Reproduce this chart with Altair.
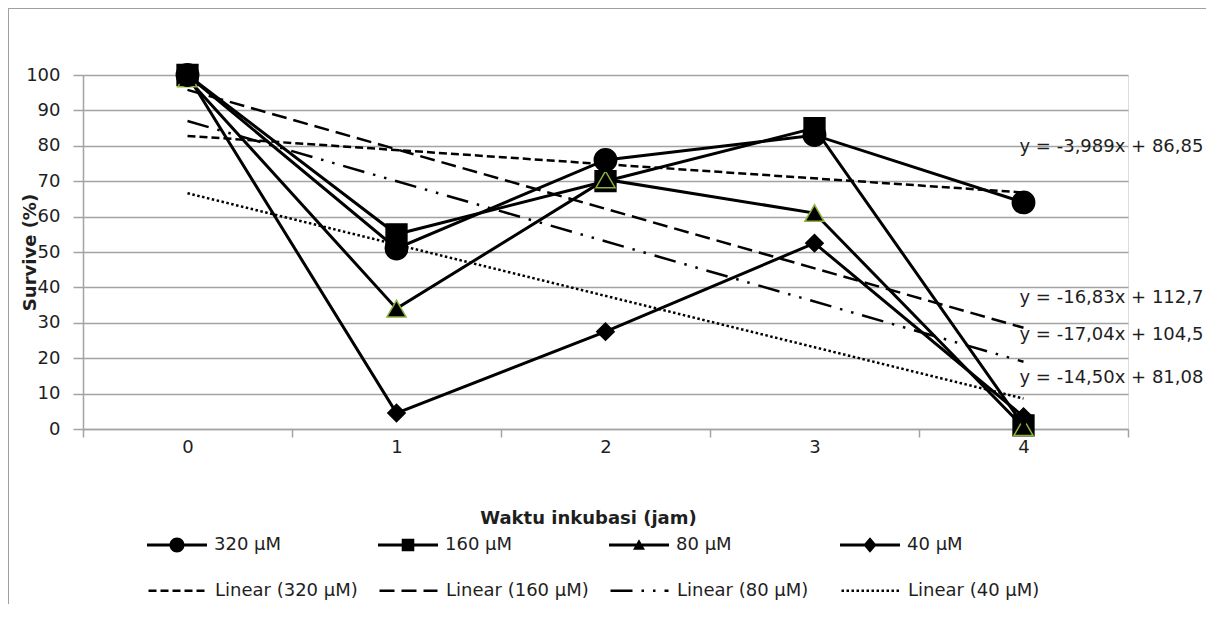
import altair as alt
import pandas as pd

# ---------------- data ----------------
times = [0, 1, 2, 3, 4]
series = ["320 µM", "160 µM", "80 µM", "40 µM"]
surv_320 = [100, 51, 76, 83, 64]
surv_160 = [100, 55, 70, 85, 1]
surv_80 = [99, 34, 70.5, 61, 0.5]
surv_40 = [100, 4.5, 27.5, 52.5, 3.5]
trend_labels = ["Linear (320 µM)", "Linear (160 µM)", "Linear (80 µM)", "Linear (40 µM)"]
equations = ["y = -3,989x + 86,85", "y = -16,83x + 112,7",
             "y = -17,04x + 104,5", "y = -14,50x + 81,08"]
equation_y = [79.7, 37.0, 26.6, 14.4]
y_ticks = list(range(0, 101, 10))
x_ticks = [-0.5, 0, 0.5, 1, 1.5, 2, 2.5, 3, 3.5, 4, 4.5]

values_by_series = [surv_320, surv_160, surv_80, surv_40]
draw_rank = [3, 0, 1, 2]

rows = []
for s, vals, z in zip(series, values_by_series, draw_rank):
    for t, v in zip(times, vals):
        rows.append({"series": s, "time": t, "survival": v, "z": z})
df = pd.DataFrame(rows)

eq_df = pd.DataFrame({"time": [times[-1]] * 4, "survival": equation_y, "text": equations})

# ---------------- styling ----------------
FONT = "DejaVu Sans"
TXT = "#1e1e1e"
GRID = "#a3a3a3"

x_enc = alt.X(
    "time:Q",
    scale=alt.Scale(domain=[-0.5, 4.5], nice=False, zero=False),
    axis=alt.Axis(
        values=x_ticks,
        labelExpr="datum.value % 1 == 0 ? format(datum.value, 'd') : ''",
        labelOverlap=False, labelFlush=False,
        grid=False,
        tickSize=8, tickWidth=1.5, tickColor=GRID,
        tickOpacity={"condition": {"test": "datum.value % 1 != 0", "value": 1}, "value": 0},
        domainColor=GRID, domainWidth=1.5,
        labelFont=FONT, labelFontSize=18, labelColor=TXT, labelPadding=1,
        title="Waktu inkubasi  (jam)",
        titleFont=FONT, titleFontSize=18, titleFontWeight="bold", titleColor=TXT,
        titleX=505, titleY=89, titleBaseline="middle", titleAlign="center",
    ),
)
y_enc = alt.Y(
    "survival:Q",
    scale=alt.Scale(domain=[0, 100], nice=False),
    axis=alt.Axis(
        values=y_ticks, format="d",
        grid=True, gridColor=GRID, gridWidth=1.5,
        tickSize=10, tickWidth=1.5, tickColor=GRID,
        domainColor=GRID, domainWidth=1.5,
        labelFont=FONT, labelFontSize=18, labelColor=TXT, labelPadding=13,
        title="Survive (%)",
        titleFont=FONT, titleFontSize=18, titleFontWeight="bold", titleColor=TXT,
        titleX=-53, titleY=177, titleAngle=270, titleBaseline="middle", titleAlign="center",
    ),
)

base = alt.Chart(df)

lines = base.mark_line(color="black", strokeWidth=3).encode(
    x=x_enc, y=y_enc, detail="series:N"
)

markers = base.mark_point(filled=True, fill="black", size=450, strokeWidth=1.5, opacity=1).encode(
    x=x_enc, y=y_enc,
    shape=alt.Shape("series:N", scale=alt.Scale(domain=series,
                    range=["circle", "square", "triangle-up", "diamond"]), legend=None),
    size=alt.Size("series:N", scale=alt.Scale(domain=series, range=[500, 300, 470, 480]),
                  legend=None),
    stroke=alt.Stroke("series:N", scale=alt.Scale(domain=series,
                      range=["black", "black", "#8db13c", "black"]), legend=None),
    order=alt.Order("z:Q"),
)

trend = base.transform_regression(
    "time", "survival", groupby=["series"]
).transform_calculate(
    trend="'Linear (' + datum.series + ')'"
).mark_line(color="black", strokeWidth=2.5, strokeCap="butt").encode(
    x=x_enc, y=y_enc,
    strokeDash=alt.StrokeDash(
        "trend:N",
        scale=alt.Scale(domain=trend_labels,
                        range=[[8, 4], [15, 7], [22, 9, 2.5, 9, 2.5, 9], [2.5, 2.5]]),
        legend=alt.Legend(
            orient="none", legendX=64, legendY=485, direction="horizontal", columns=4,
            title=None, symbolSize=3364, symbolStrokeWidth=2.5, symbolStrokeColor="black",
            symbolType="stroke", labelFont=FONT, labelFontSize=18, labelColor=TXT,
            labelOffset=7, columnPadding=16, gridAlign="all", padding=0, labelLimit=0,
        ),
    ),
)

# legend symbols: a line with the series marker on it (all sub-paths clockwise)
LINE = "M-1,-0.05H1V0.05H-1Z"
legend_paths = [
    LINE + "M-0.25,0A0.25,0.25,0,1,1,0.25,0A0.25,0.25,0,1,1,-0.25,0Z",
    LINE + "M-0.21,-0.21H0.21V0.21H-0.21Z",
    LINE + "M0,-0.19L0.2,0.16L-0.2,0.16Z",
    LINE + "M0,-0.26L0.22,0L0,0.26L-0.22,0Z",
]
legend_layer = base.transform_filter("false").mark_point(
    filled=True, fill="black", opacity=1
).encode(
    x=x_enc, y=y_enc,
    shape=alt.Shape(
        "series:N",
        scale=alt.Scale(domain=series, range=legend_paths),
        legend=alt.Legend(
            orient="none", legendX=64, legendY=440, direction="horizontal", columns=4,
            title=None, symbolSize=3600, symbolStrokeWidth=0, symbolFillColor="black",
            symbolOpacity=1,
            labelFont=FONT, labelFontSize=18, labelColor=TXT,
            labelOffset=7, columnPadding=96, gridAlign="all", padding=0, labelLimit=0,
        ),
    ),
)

eq_text = alt.Chart(eq_df).mark_text(
    align="left", baseline="middle", dx=-4, font=FONT, fontSize=18, color=TXT
).encode(x=x_enc, y=y_enc, text="text:N")

frame_df = pd.DataFrame({"k": [0]})
frame_left = alt.Chart(frame_df).mark_rule(color="#a0a0a0", strokeWidth=2).encode(
    x=alt.value(-75), y=alt.value(-67), y2=alt.value(530)
)
frame_top = alt.Chart(frame_df).mark_rule(color="#a0a0a0", strokeWidth=2).encode(
    x=alt.value(-75), x2=alt.value(1130), y=alt.value(-67)
)

chart = alt.layer(
    frame_left, frame_top, trend, lines, markers, eq_text, legend_layer
).resolve_scale(
    shape="independent", size="independent"
).properties(
    width=1045, height=354,
    autosize=alt.AutoSizeParams(type="none"),
    padding={"left": 75, "top": 67, "right": 78, "bottom": 175},
).configure_view(stroke=None).configure(font=FONT)

chart.save("out.html", embed_options={"renderer": "svg", "actions": False})
